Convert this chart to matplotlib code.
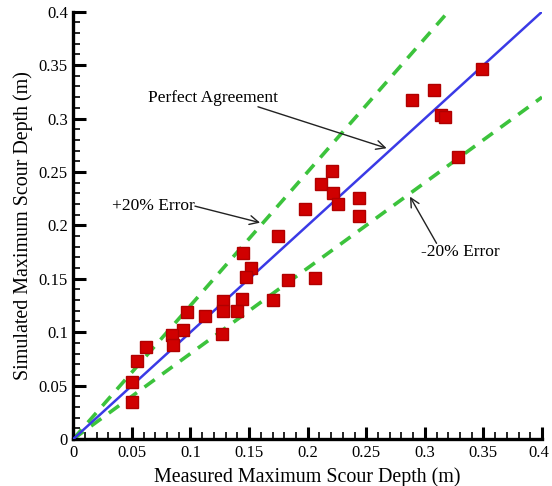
import matplotlib
matplotlib.use("Agg")
import matplotlib.pyplot as plt
import matplotlib.transforms as mtransforms
from matplotlib.ticker import MultipleLocator

plt.rcParams['font.family'] = ['Liberation Serif', 'DejaVu Serif']

measured = [0.349, 0.308, 0.289, 0.314, 0.317, 0.328, 0.221, 0.211, 0.222, 0.226,
            0.244, 0.244, 0.198, 0.206, 0.183, 0.175, 0.145, 0.152, 0.147, 0.144,
            0.140, 0.170, 0.128, 0.128, 0.127, 0.112, 0.097, 0.094, 0.084, 0.085,
            0.062, 0.054, 0.050, 0.050]
simulated = [0.346, 0.327, 0.317, 0.303, 0.301, 0.264, 0.251, 0.239, 0.230, 0.220,
             0.2255, 0.209, 0.215, 0.151, 0.149, 0.190, 0.174, 0.160, 0.152, 0.131,
             0.120, 0.130, 0.129, 0.120, 0.098, 0.115, 0.119, 0.102, 0.097, 0.088,
             0.086, 0.073, 0.053, 0.035]

perfect_x = [0.0, 0.4]
perfect_y = [0.0, 0.4]
plus20_x = [0.0, 0.32]
plus20_y = [0.0, 0.4]
minus20_x = [0.0, 0.4]
minus20_y = [0.0, 0.32]

tick_vals = [0, 0.05, 0.1, 0.15, 0.2, 0.25, 0.3, 0.35, 0.4]
tick_labels = ['0', '0.05', '0.1', '0.15', '0.2', '0.25', '0.3', '0.35', '0.4']

fig = plt.figure(figsize=(5.52, 4.86), dpi=100)
ax = fig.add_axes([0.1328, 0.0967, 0.8491, 0.8792])

green = '#3cc33c'
ax.plot(plus20_x, plus20_y, color=green, lw=2.6, dashes=(3.5, 2.6), zorder=2)
ax.plot(minus20_x, minus20_y, color=green, lw=2.6, dashes=(3.5, 2.6), zorder=2)
ax.plot(perfect_x, perfect_y, color='#3a3ae6', lw=1.8, zorder=3)
ax.plot(measured, simulated, 's', color='#d00000', mec='#b00000', ms=8, zorder=4, clip_on=False)

ax.set_xlim(0, 0.4)
ax.set_ylim(0, 0.4)
ax.set_xticks(tick_vals)
ax.set_xticklabels(tick_labels)
ax.set_yticks(tick_vals)
ax.set_yticklabels(tick_labels)
ax.xaxis.set_minor_locator(MultipleLocator(0.01))
ax.yaxis.set_minor_locator(MultipleLocator(0.01))
ax.tick_params(which='major', direction='in', length=9, width=2.2, labelsize=12, pad=4)
ax.tick_params(which='minor', direction='in', length=5, width=1.2)
ax.tick_params(top=False, right=False, which='both')
for s in ['top', 'right']:
    ax.spines[s].set_visible(False)
for s in ['left', 'bottom']:
    ax.spines[s].set_linewidth(2.4)

# nudge the last x tick label slightly inward so it stays inside the figure
last = ax.get_xticklabels()[-1]
last.set_transform(last.get_transform() + mtransforms.ScaledTranslation(-3 / 100, 0, fig.dpi_scale_trans))

ax.set_xlabel('Measured Maximum Scour Depth (m)', fontsize=14.4, labelpad=5)
ax.set_ylabel('Simulated Maximum Scour Depth (m)', fontsize=14.4, labelpad=4)

fs = 12.5
ax.text(0.1192, 0.319, 'Perfect Agreement', fontsize=fs, ha='center', va='center')
ax.text(0.068, 0.2184, '+20% Error', fontsize=fs, ha='center', va='center')
ax.text(0.330, 0.1754, '-20% Error', fontsize=fs, ha='center', va='center')

ap = dict(arrowstyle='->', lw=1.0, color='#222222', mutation_scale=16, shrinkA=0, shrinkB=0)
ax.annotate('', xy=(0.2674, 0.2722), xytext=(0.1576, 0.311), arrowprops=ap)
ax.annotate('', xy=(0.1594, 0.2025), xytext=(0.1038, 0.218), arrowprops=ap)
ax.annotate('', xy=(0.2873, 0.2269), xytext=(0.310, 0.1832), arrowprops=ap)

fig.savefig('out.png', dpi=100)
